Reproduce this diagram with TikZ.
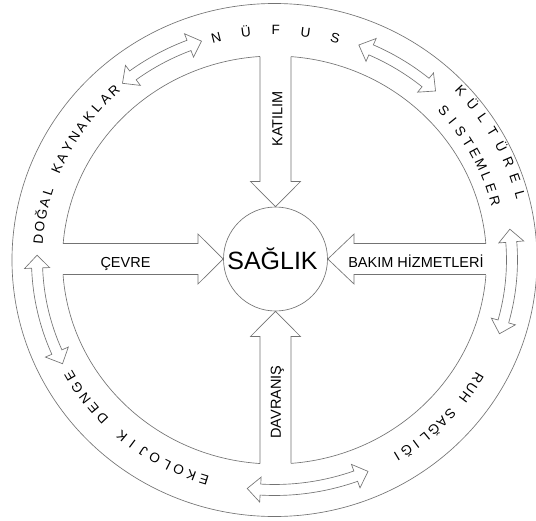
\documentclass[tikz,border=0pt]{standalone}
\usepackage{fontspec}
\setmainfont{Liberation Sans}
\newcommand{\ringtxt}[5]{%
  \foreach \ch [count=\i from 0] in {#5} {%
    \pgfmathsetmacro\ang{#1-\i*#2}%
    \node[ringletter, rotate=\ang-90] at (\ang:#3 and #4) {\ch};
  }}
\newcommand{\dblarrow}[2]{%
  \pgfmathsetmacro\aa{#1+3.2}\pgfmathsetmacro\bb{#2-3.2}%
  \draw[ln] (\aa:232 and 224.5) arc[start angle=\aa, end angle=\bb, x radius=232, y radius=224.5]
    -- (\bb:225 and 217.5) -- (#2:237.5 and 230) -- (\bb:250 and 242.5)
    -- (\bb:243 and 235.5) arc[start angle=\bb, end angle=\aa, x radius=243, y radius=235.5]
    -- (\aa:250 and 242.5) -- (#1:237.5 and 230) -- (\aa:225 and 217.5) -- cycle;}
\begin{document}
\begin{tikzpicture}[x=1pt,y=1pt,
  ln/.style={draw=black!55, line width=0.65pt},
  ringletter/.style={font=\fontsize{13.5}{13.5}\selectfont, anchor=base, inner sep=0pt},
  lbl/.style={font=\fontsize{14.5}{14.5}\selectfont, anchor=base, inner sep=0pt},
  big/.style={font=\fontsize{25}{25}\selectfont, anchor=base, inner sep=0pt}]
\useasboundingbox (-274.5,-260) rectangle (261.5,260);
\fill[white] (-274.5,-260) rectangle (261.5,260);

% rings
\draw[ln] (0,0) ellipse [x radius=262.5, y radius=256.5];
\draw[ln] (0,0) ellipse [x radius=212, y radius=204];

% open the shafts into the ring
\fill[white] (-14.5,78.5) rectangle (16.5,212);
\fill[white] (-14.5,-76.5) rectangle (16.5,-212);
\fill[white] (-76.5,-14.5) rectangle (-220,16.5);
\fill[white] (78.5,-14.5) rectangle (220,16.5);

% centre
\node[circle, ln, minimum size=104pt, inner sep=0pt] (s) at (1,1) {};
\node[big] (saglik) at (-2,-9) {SAĞLIK};

% block arrows
\draw[ln] (-14.5,203.5) -- (-14.5,78.5) -- (-24,78.5) -- (s.north) -- (26,78.5) -- (16.5,78.5) -- (16.5,203.3);
\draw[ln] (-14.5,-203.5) -- (-14.5,-76.5) -- (-24,-76.5) -- (s.south) -- (26,-76.5) -- (16.5,-76.5) -- (16.5,-203.3);
\draw[ln] (-211.3,16.5) -- (-76.5,16.5) -- (-76.5,26) -- (s.west) -- (-76.5,-24) -- (-76.5,-14.5) -- (-211.5,-14.5);
\draw[ln] (211.3,16.5) -- (79.5,16.5) -- (79.5,26) -- (s.east) -- (79.5,-24) -- (79.5,-14.5) -- (211.5,-14.5);

% arrow labels
\node[lbl] (cevre) at (-149,-7) {ÇEVRE};
\node[lbl] (bakim) at (141.5,-7) {BAKIM HİZMETLERİ};
\node[lbl, rotate=90] (katilim) at (8,141) {KATILIM};
\node[lbl, rotate=90] (davranis) at (6.5,-142) {DAVRANIŞ};

% ring texts
\ringtxt{104.2}{7.25}{232.5}{225}{N,Ü,F,U,S}
\ringtxt{174.7}{3.01}{232.5}{225}{D,O,Ğ,A,L,{},K,A,Y,N,A,K,L,A,R}
\ringtxt{43}{3.96}{250}{243}{K,Ü,L,T,Ü,R,E,L}
\ringtxt{42.2}{3.35}{224}{217}{S,I,S,T,E,M,L,E,R}
\ringtxt{-31}{2.79}{232.5}{225}{R,U,H,{},S,A,Ğ,L,I,Ğ,I}
\ringtxt{252.7}{3.25}{232.5}{225}{E,K,O,L,O,J,I,K,{},D,E,N,G,E}

% double arrows in the ring
\dblarrow{107.9}{129.8}
\dblarrow{47.3}{69.2}
\dblarrow{-18.7}{7.7}
\dblarrow{263.4}{293.2}
\dblarrow{178.8}{206.8}
\end{tikzpicture}
\end{document}
